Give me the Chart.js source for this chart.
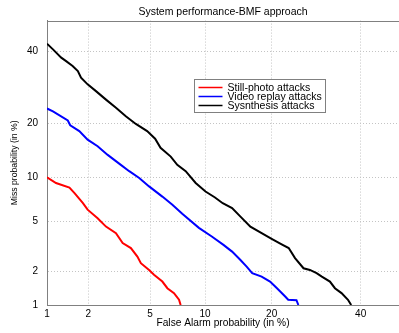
<!DOCTYPE html>
<html>
<head>
<meta charset="utf-8">
<script src="https://cdn.jsdelivr.net/npm/chart.js@4.4.0/dist/chart.umd.min.js"></script>
<style>
  html, body { margin: 0; padding: 0; background: #fff; }
</style>
</head>
<body>
<canvas id="grafico" width="399" height="333"></canvas>
<script>
// values, in %
const stillX = [1.0, 1.17, 1.47, 1.60, 1.83, 1.98, 2.32, 2.64, 3.07, 3.39, 3.82, 4.19, 4.40, 4.93, 5.27, 5.89, 6.29, 6.85, 7.30, 7.45]
const stillY = [10.0, 9.2, 8.6, 7.9, 6.8, 6.1, 5.3, 4.6, 4.1, 3.44, 3.14, 2.68, 2.36, 2.07, 1.88, 1.64, 1.43, 1.29, 1.12, 1.0]

const replayX = [1.0, 1.11, 1.43, 1.49, 1.73, 1.98, 2.32, 2.71, 3.30, 3.73, 4.30, 4.93, 5.89, 6.71, 7.60, 9.30, 10.8, 12.3, 13.5, 14.7, 15.7, 16.6, 18.2, 19.7, 21.0, 22.6, 23.2, 24.9, 25.3]
const replayY = [23.6, 22.9, 20.7, 19.6, 18.3, 16.5, 15.2, 13.6, 11.9, 10.9, 9.9, 8.75, 7.5, 6.6, 5.7, 4.5, 3.87, 3.33, 2.94, 2.52, 2.21, 1.94, 1.81, 1.64, 1.43, 1.20, 1.12, 1.11, 1.0]

const synthX = [1.0, 1.11, 1.28, 1.39, 1.55, 1.69, 1.78, 1.98, 2.26, 2.64, 3.07, 3.55, 4.10, 4.80, 5.35, 5.75, 6.57, 7.14, 7.93, 8.95, 10.05, 11.2, 12.2, 13.5, 14.7, 16.3, 18.2, 20.0, 21.9, 23.3, 24.6, 26.4, 27.8, 29.3, 30.5, 32.4, 33.6, 35.2, 36.8, 37.6]
const synthY = [42.5, 40.7, 38.1, 37.0, 35.5, 34.0, 32.0, 30.1, 28.2, 25.9, 23.8, 21.7, 19.9, 18.3, 16.7, 14.9, 13.3, 11.9, 10.9, 9.2, 8.1, 7.4, 6.76, 6.26, 5.46, 4.6, 4.1, 3.71, 3.36, 3.14, 2.60, 2.14, 2.07, 1.94, 1.81, 1.64, 1.43, 1.29, 1.12, 1.0]

const xTicks = [1, 2, 5, 10, 20, 40]
const yTicks = [1, 2, 5, 10, 20, 40]
const labels = ['Still-photo attacks', 'Video replay attacks', 'Sysnthesis attacks']

// inverse normal cdf (Acklam)
function probit(p) {
  const a = [-39.69683028665376, 220.9460984245205, -275.9285104469687, 138.3577518672690, -30.66479806614716, 2.506628277459239]
  const b = [-54.47609879822406, 161.5858368580409, -155.6989798598866, 66.80131188771972, -13.28068155288572]
  const c = [-0.007784894002430293, -0.3223964580411365, -2.400758277161838, -2.549732539343734, 4.374664141464968, 2.938163982698783]
  const d = [0.007784695709041462, 0.3224671290700398, 2.445134137142996, 3.754408661907416]
  let q, r
  if (p < 0.02425) {
    q = Math.sqrt(-2 * Math.log(p))
    return (((((c[0]*q + c[1])*q + c[2])*q + c[3])*q + c[4])*q + c[5]) / ((((d[0]*q + d[1])*q + d[2])*q + d[3])*q + 1)
  }
  if (p <= 1 - 0.02425) {
    q = p - 0.5
    r = q * q
    return (((((a[0]*r + a[1])*r + a[2])*r + a[3])*r + a[4])*r + a[5])*q / (((((b[0]*r + b[1])*r + b[2])*r + b[3])*r + b[4])*r + 1)
  }
  q = Math.sqrt(-2 * Math.log(1 - p))
  return -(((((c[0]*q + c[1])*q + c[2])*q + c[3])*q + c[4])*q + c[5]) / ((((d[0]*q + d[1])*q + d[2])*q + d[3])*q + 1)
}

function normCdf(z) {
  const t = 1 / (1 + 0.2316419 * Math.abs(z))
  const s = t * (0.319381530 + t * (-0.356563782 + t * (1.781477937 + t * (-1.821255978 + t * 1.330274429))))
  const v = 1 - Math.exp(-z * z / 2) / Math.sqrt(2 * Math.PI) * s
  return z >= 0 ? v : 1 - v
}

// normal deviate scale, like matlab's DET plots
class ProbitScale extends Chart.Scale {
  determineDataLimits() {
    this.min = this.options.min
    this.max = this.options.max
  }
  buildTicks() {
    return (this.options.tickValues || []).map(v => ({ value: v }))
  }
  getLabelForValue(v) {
    return String(v)
  }
  configure() {
    super.configure()
    this._z0 = probit(this.min / 100)
    this._zRange = probit(this.max / 100) - this._z0
  }
  getPixelForValue(v) {
    return this.getPixelForDecimal((probit(v / 100) - this._z0) / this._zRange)
  }
  getValueForPixel(px) {
    return 100 * normCdf(this.getDecimalForPixel(px) * this._zRange + this._z0)
  }
}
ProbitScale.id = 'probit'
ProbitScale.defaults = {}
Chart.register(ProbitScale)

const toPoints = (xs, ys) => xs.map((x, i) => ({ x: x, y: ys[i] }))

const marco = {
  id: 'marco',
  beforeDatasetsDraw(chart) {
    const { ctx, chartArea } = chart
    ctx.save()
    ctx.strokeStyle = '#808080'
    ctx.lineWidth = 1
    ctx.beginPath()
    ctx.moveTo(chartArea.left, Math.round(chartArea.top) + 0.5)
    ctx.lineTo(chartArea.right, Math.round(chartArea.top) + 0.5)
    ctx.stroke()
    ctx.restore()
  }
}

const leyenda = {
  id: 'leyenda',
  afterDraw(chart) {
    const ctx = chart.ctx
    const x = 194.5, y = 79.5, w = 131, h = 33
    ctx.save()
    ctx.fillStyle = '#fff'
    ctx.fillRect(x, y, w, h)
    ctx.strokeStyle = '#808080'
    ctx.lineWidth = 1
    ctx.strokeRect(x, y, w, h)
    ctx.font = "10.5px 'Liberation Sans', Arial, sans-serif"
    ctx.textBaseline = 'middle'
    chart.data.datasets.forEach((ds, i) => {
      const yy = y + 8 + i * 9
      ctx.strokeStyle = ds.borderColor
      ctx.lineWidth = 1.5
      ctx.beginPath()
      ctx.moveTo(x + 4, yy)
      ctx.lineTo(x + 28, yy)
      ctx.stroke()
      ctx.fillStyle = '#000'
      ctx.fillText(ds.label, x + 33, yy + 0.5)
    })
    ctx.restore()
  }
}

Chart.defaults.font.family = "'Liberation Sans', Arial, sans-serif"
Chart.defaults.color = '#000'

const serie = (label, color, xs, ys) => ({
  label: label,
  data: toPoints(xs, ys),
  showLine: true,
  borderColor: color,
  backgroundColor: color,
  borderWidth: 2,
  pointRadius: 0,
  tension: 0
})

new Chart(document.getElementById('grafico'), {
  type: 'scatter',
  data: {
    datasets: [
      serie(labels[0], '#ff0000', stillX, stillY),
      serie(labels[1], '#0000ff', replayX, replayY),
      serie(labels[2], '#000000', synthX, synthY)
    ]
  },
  options: {
    responsive: false,
    animation: false,
    layout: { padding: { left: 0, right: -2, top: 0, bottom: 0 } },
    plugins: {
      legend: { display: false },
      tooltip: { enabled: false },
      title: {
        display: true,
        text: 'System performance-BMF approach',
        fullSize: false,
        font: { size: 10.5, weight: 'normal' },
        padding: { top: 6, bottom: 2 }
      }
    },
    scales: {
      x: {
        type: 'probit',
        min: 1,
        max: 50,
        tickValues: xTicks,
        afterFit: s => { s.height = 28 },
        grid: { color: '#c4c4c4', lineWidth: 1, drawTicks: false },
        border: { color: '#808080', dash: [1, 2] },
        ticks: { autoSkip: false, maxRotation: 0, padding: 3, font: { size: 10 }, callback: v => String(v) },
        title: { display: true, text: 'False Alarm probability (in %)', font: { size: 10.2 }, padding: { top: 0, bottom: 4 } }
      },
      y: {
        type: 'probit',
        min: 1,
        max: 50,
        tickValues: yTicks,
        afterFit: s => { s.width = 47 },
        grid: { color: '#c4c4c4', lineWidth: 1, drawTicks: false },
        border: { color: '#808080', dash: [1, 2] },
        ticks: { autoSkip: false, padding: 9, font: { size: 10 }, callback: v => String(v) },
        title: { display: true, text: 'Miss probability (in %)', font: { size: 8.7 }, padding: { top: 9, bottom: 0 } }
      }
    }
  },
  plugins: [marco, leyenda]
})
</script>
</body>
</html>
